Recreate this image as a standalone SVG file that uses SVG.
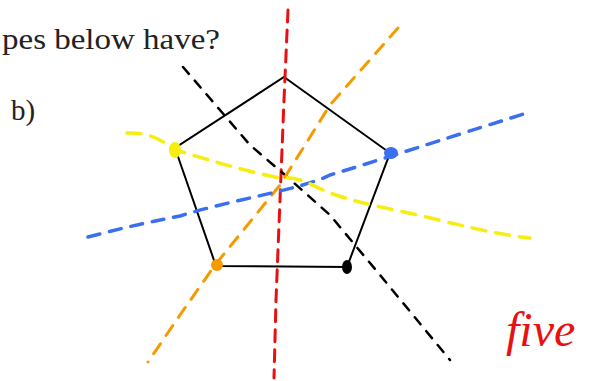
<svg xmlns="http://www.w3.org/2000/svg" width="595" height="381" viewBox="0 0 595 381">
<style>
.t{font-family:"Liberation Serif",serif;fill:#222}
.d{fill:none;stroke-linecap:round;stroke-linejoin:round}
</style>
<rect width="595" height="381" fill="#fff"/>
<text class="t" x="2" y="49" font-size="30" textLength="218" lengthAdjust="spacingAndGlyphs">pes below have?</text>
<text class="t" x="11" y="120" font-size="29">b)</text>
<g id="pentagon">
<polygon points="284,77 390,153 347,267 216,266 175,148" fill="none" stroke="#000" stroke-width="2"/>
</g>
<g id="connectors">
<path class="d" d="M288,10 L284,100 L280,200 L276,300 L274,378" stroke="#e81010" stroke-width="3" stroke-dasharray="12,8"/>
<path class="d" d="M183,67 L250,145 L285,175 L330,215 L380,275 L450,360" stroke="#000" stroke-width="2.5" stroke-dasharray="9,9"/>
<path class="d" d="M398,28 L330,105 L280,185 L215,265 L180,315 L148,362" stroke="#f59b00" stroke-width="3" stroke-dasharray="12,10"/>
<path class="d" d="M88,237 C130,226 150,222 180,216 C230,200 300,190 330,175 C380,160 440,140 527,113" stroke="#3a6ff0" stroke-width="3.5" stroke-dasharray="12,10"/>
<path class="d" d="M127,133 C145,132 160,138 175,150 C210,160 240,170 280,178 C300,176 310,185 330,193 C350,200 370,205 400,211 C450,222 490,234 530,238" stroke="#f5ee10" stroke-width="3.5" stroke-dasharray="14,10"/>
</g>
<g id="dots">
<ellipse cx="175" cy="150" rx="6" ry="8" fill="#f5ee10"/>
<ellipse cx="391" cy="153" rx="7" ry="6" fill="#3a6ff0"/>
<ellipse cx="217" cy="265" rx="6" ry="6" fill="#f59b00"/>
<ellipse cx="347" cy="267" rx="5" ry="7" fill="#000"/>
</g>
<text x="506" y="346" font-family="Liberation Serif,serif" font-style="italic" font-size="48" fill="#e81010">five</text>
</svg>
